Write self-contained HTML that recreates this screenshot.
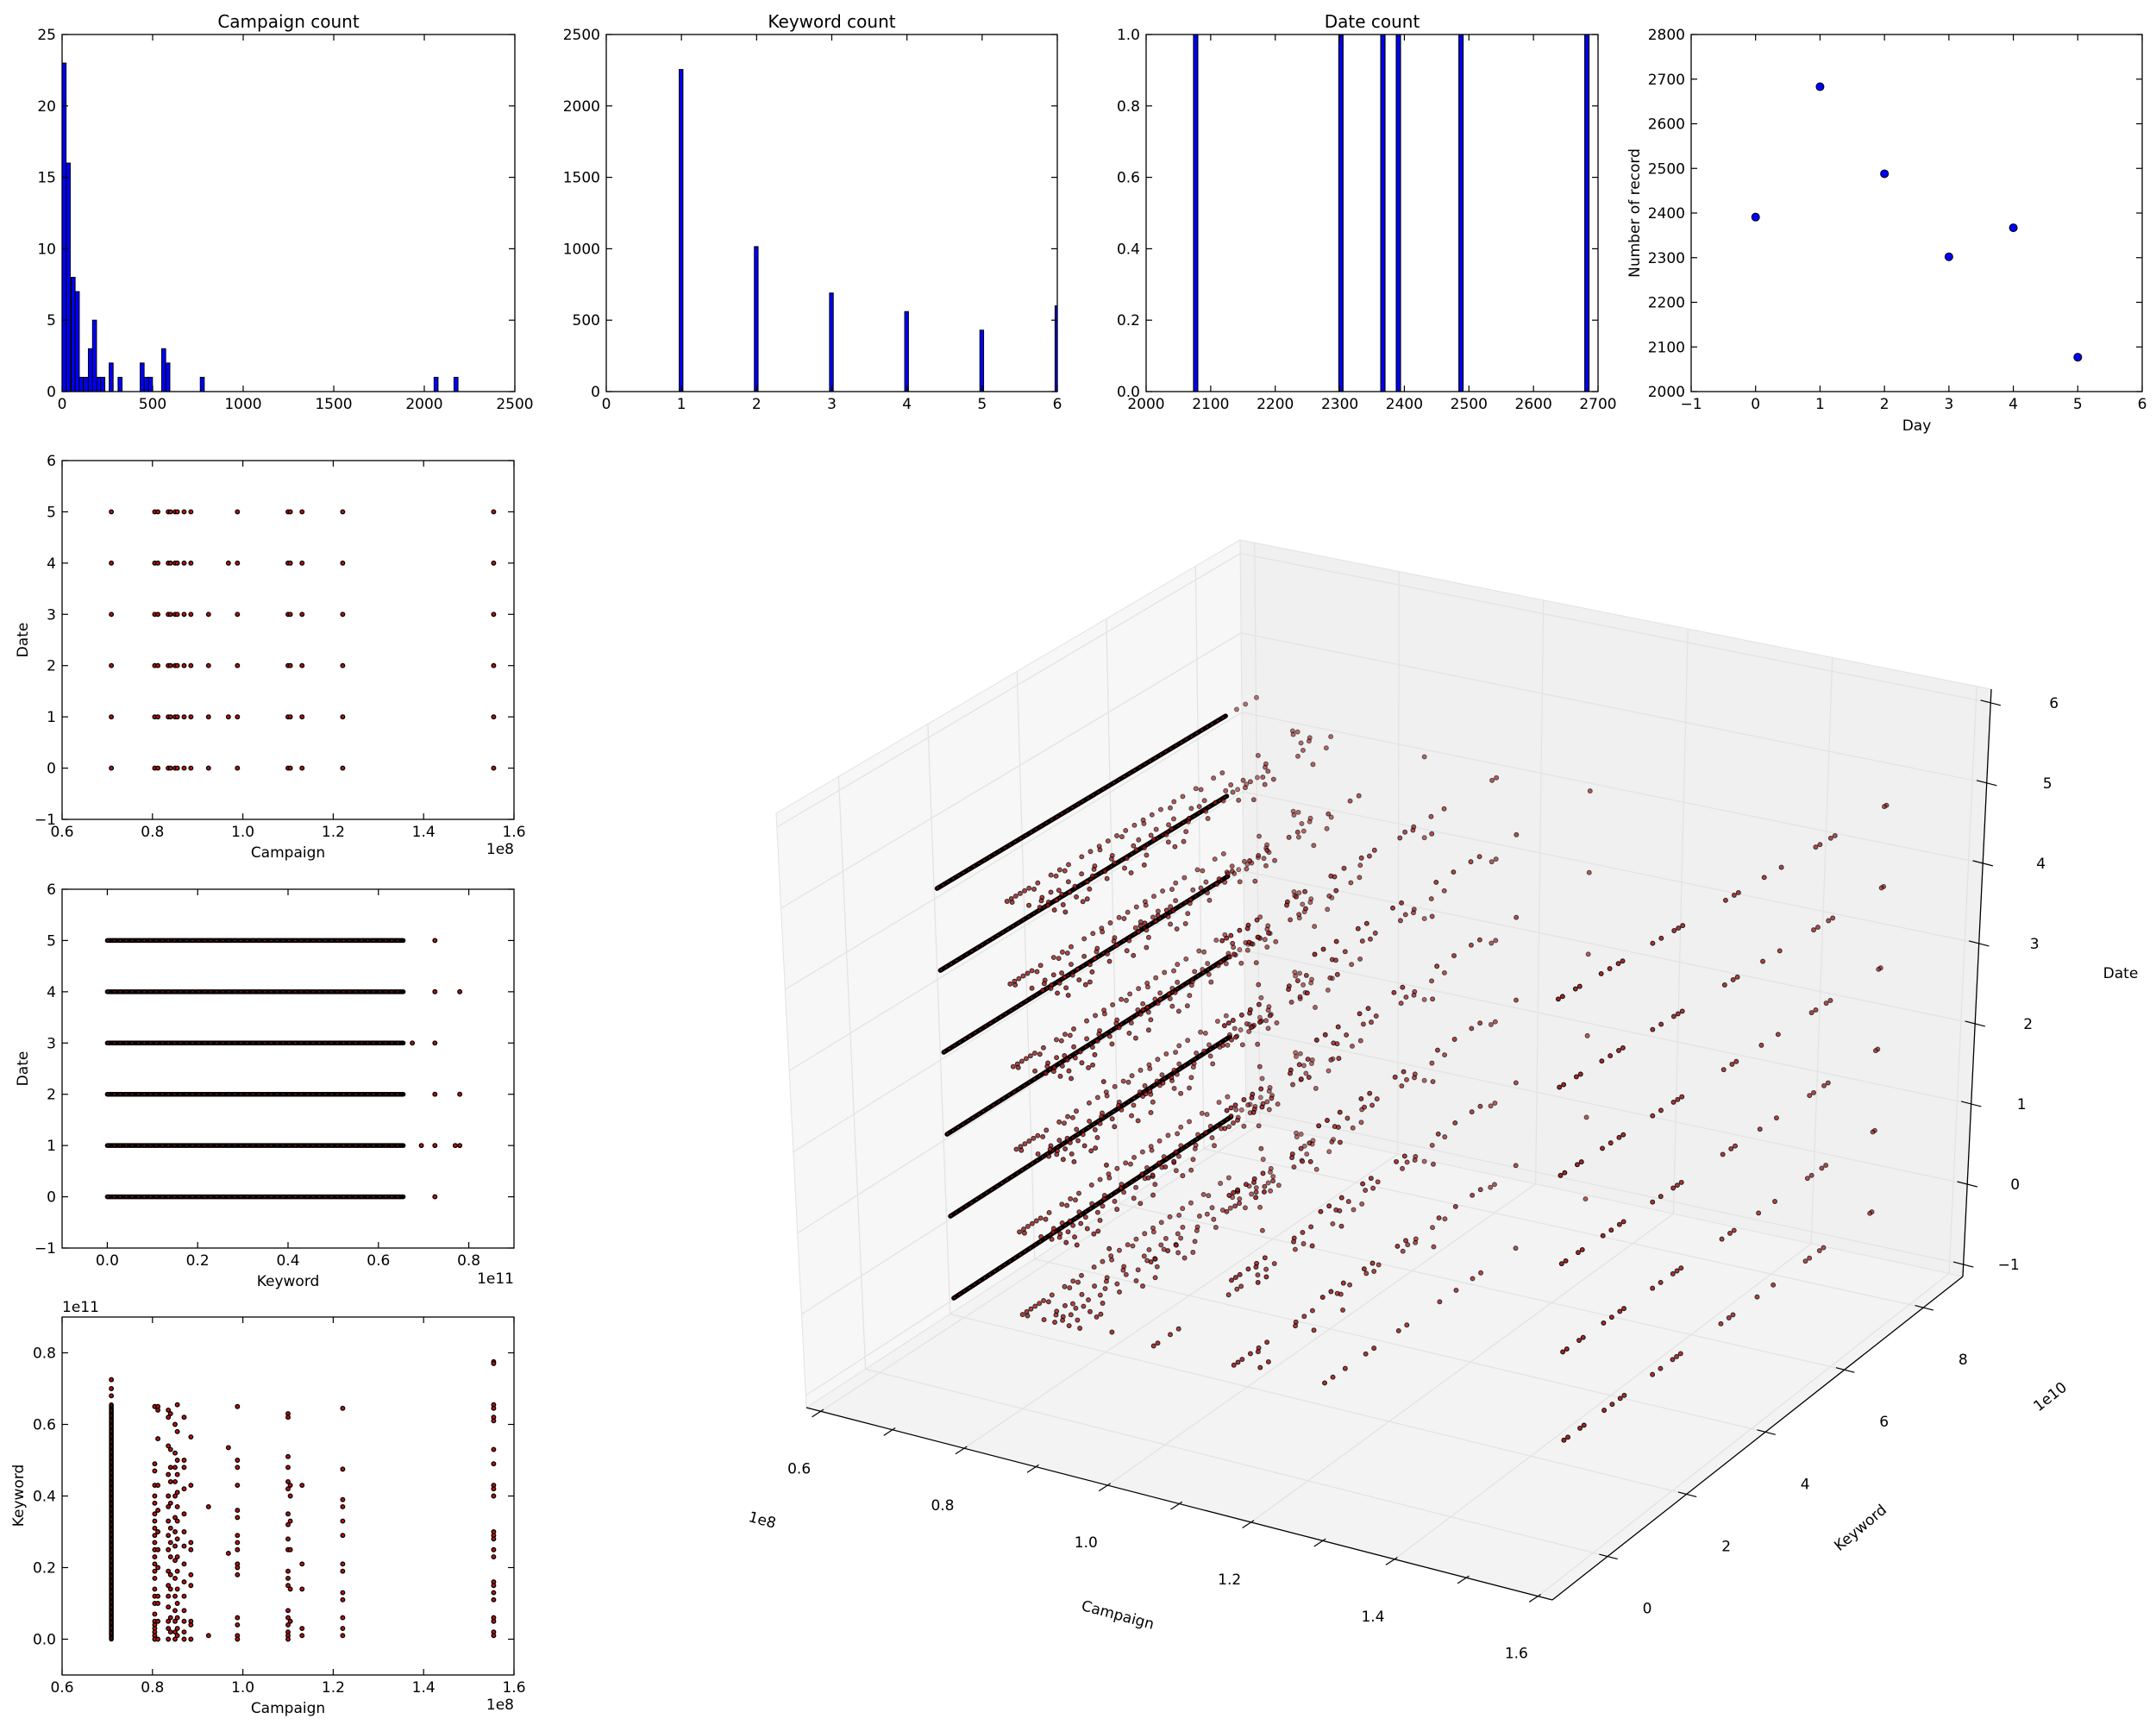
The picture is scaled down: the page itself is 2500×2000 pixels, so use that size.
<!DOCTYPE html>
<html><head><meta charset="utf-8">
<style>
html,body{margin:0;padding:0;background:#fff;}
svg{display:block;font-family:"DejaVu Sans","Liberation Sans",sans-serif;}
</style></head>
<body>
<svg id="fig" xmlns="http://www.w3.org/2000/svg" width="2500" height="2000" viewBox="0 0 2500 2000"></svg>
<script>
// ---------- DATA ----------
const campHistLefts = [0,23,50,73,95,122,145,168,191,214,260,309,431,454,477,550,573,763,2054,2164];
const campHistCounts = [23,16,8,7,1,1,3,5,1,1,2,1,2,1,1,3,2,1,1,1];
const kwCountCats = [1,2,3,4,5,6];
const kwCountVals = [2255,1015,690,560,430,600];
const dateCountVals = [2077,2302,2367,2391,2488,2683];
const days = [0,1,2,3,4,5];
const dayRecords = [2391,2683,2488,2302,2367,2077];

const campaigns = [0.709,0.805,0.812,0.835,0.84,0.85,0.855,0.87,0.885,0.924,0.968,0.988,1.10,1.105,1.131,1.221,1.555];
const campDates = [
 [0,1,2,3,4,5],[0,1,2,3,4,5],[0,1,2,3,4,5],[0,1,2,3,4,5],[0,1,2,3,4,5],[0,1,2,3,4,5],
 [0,1,2,3,4,5],[0,1,2,3,4,5],[0,1,2,3,4,5],[0,1,2,3],[1,4],[0,1,2,3,4,5],
 [0,1,2,3,4,5],[0,1,2,3,4,5],[0,1,2,3,4,5],[0,1,2,3,4,5],[0,1,2,3,4,5]];
const campKeywords = [
 [0.68,0.70,0.725],
 [0.65,0.49,0.47,0.43,0.40,0.38,0.35,0.33,0.31,0.29,0.27,0.25,0.23,0.21,0.19,0.17,0.14,0.12,0.10,0.07,0.05,0.04,0.03,0.02,0.01,0.0],
 [0.65,0.64,0.56,0.43,0.36,0.30,0.25,0.20,0.12,0.10,0.05,0.0],
 [0.64,0.62,0.54,0.46,0.40,0.37,0.33,0.29,0.25,0.19,0.15,0.12,0.09,0.05,0.03,0.0],
 [0.63,0.53,0.48,0.44,0.38,0.31,0.27,0.23,0.18,0.14,0.06,0.02],
 [0.60,0.52,0.48,0.44,0.40,0.34,0.30,0.26,0.22,0.17,0.12,0.08,0.05,0.02,0.0],
 [0.655,0.58,0.50,0.46,0.41,0.37,0.33,0.28,0.23,0.19,0.14,0.10,0.06,0.03,0.01],
 [0.62,0.50,0.48,0.42,0.35,0.30,0.26,0.21,0.16,0.12,0.08,0.05,0.02,0.0],
 [0.565,0.43,0.27,0.25,0.18,0.15,0.05,0.04,0.0],
 [0.37,0.01],
 [0.535,0.24],
 [0.65,0.50,0.48,0.43,0.36,0.34,0.29,0.27,0.25,0.21,0.20,0.18,0.06,0.04,0.01,0.0],
 [0.63,0.62,0.51,0.48,0.44,0.42,0.35,0.32,0.28,0.25,0.19,0.17,0.15,0.08,0.06,0.04,0.02,0.01,0.0],
 [0.43,0.40,0.33,0.25,0.14,0.05],
 [0.43,0.21,0.14,0.03,0.01],
 [0.645,0.475,0.39,0.37,0.33,0.29,0.21,0.19,0.13,0.11,0.06,0.03,0.01],
 [0.775,0.77,0.655,0.645,0.62,0.61,0.53,0.49,0.43,0.42,0.40,0.30,0.29,0.28,0.25,0.23,0.16,0.15,0.13,0.11,0.06,0.05,0.02,0.01]];
const denseCampaign = 0.709;
const denseKwRange = [0.0, 0.655];
const dateLevels = [0,1,2,3,4,5];
// keyword outliers beyond the dense band, per date (1e11)
const outlierDates = [5,4,4,3,3,2,2,1,1,1,1,0];
const outlierKw = [0.725,0.725,0.78,0.675,0.725,0.725,0.78,0.695,0.725,0.77,0.78,0.725];

// ---------- HELPERS ----------
const svg = document.getElementById('fig');
const NS = 'http://www.w3.org/2000/svg';
function el(tag, attrs, parent){
  const e = document.createElementNS(NS, tag);
  for (const k in attrs) e.setAttribute(k, attrs[k]);
  (parent||svg).appendChild(e);
  return e;
}
function txt(s, x, y, size, anchor, parent, extra){
  const t = el('text', Object.assign({x:x, y:y, 'font-size':size, 'text-anchor':anchor||'middle', fill:'#000'}, extra||{}), parent);
  t.textContent = s;
  return t;
}
function fmtNum(v, dec){ let s = v.toFixed(dec); if (v < 0) s = '\u2212' + s.slice(1); return s; }

function makeAxes(name, x0, y0, x1, y1, xmin, xmax, ymin, ymax, xticks, yticks, xdec, ydec){
  const g = el('g', {});
  
  
  const sx = v => x0 + (v - xmin) / (xmax - xmin) * (x1 - x0);
  const sy = v => y1 - (v - ymin) / (ymax - ymin) * (y1 - y0);
  const plot = el('g', {}, g);
  
  
  const clipId = name + '-clip';
  const cp = el('clipPath', {id: clipId}, g);
  el('rect', {x:x0, y:y0, width:x1-x0, height:y1-y0}, cp);
  plot.setAttribute('clip-path', 'url(#' + clipId + ')');
  const ax = el('g', {}, g);
  
  
  const T = 7;
  xticks.forEach(v => {
    const x = sx(v);
    el('line', {x1:x, y1:y1, x2:x, y2:y1-T, stroke:'#000', 'stroke-width':1.2}, ax);
    el('line', {x1:x, y1:y0, x2:x, y2:y0+T, stroke:'#000', 'stroke-width':1.2}, ax);
    txt(fmtNum(v, xdec), x, y1 + 20, 17, 'middle', ax);
  });
  yticks.forEach(v => {
    const y = sy(v);
    el('line', {x1:x0, y1:y, x2:x0+T, y2:y, stroke:'#000', 'stroke-width':1.2}, ax);
    el('line', {x1:x1, y1:y, x2:x1-T, y2:y, stroke:'#000', 'stroke-width':1.2}, ax);
    txt(fmtNum(v, ydec), x0 - 7, y + 6, 17, 'end', ax);
  });
  el('rect', {x:x0, y:y0, width:x1-x0, height:y1-y0, fill:'none', stroke:'#000', 'stroke-width':1.3}, ax);
  return {g:g, plot:plot, ax:ax, sx:sx, sy:sy, x0:x0, x1:x1, y0:y0, y1:y1};
}
function range(a, b, s){ const r=[]; for (let v=a; v<=b+1e-9; v+=s) r.push(Math.round(v*1e6)/1e6); return r; }

// ---------- PANEL 1: Campaign count ----------
(function(){
  const A = makeAxes('campaign-count-hist', 72, 40, 597, 454, 0, 2500, 0, 25, range(0,2500,500), range(0,25,5), 0, 0);
  const t = txt('Campaign count', (A.x0+A.x1)/2, 32, 20, 'middle', A.g);
  
  
  campHistLefts.forEach((l, i) => {
    const r = el('rect', {x:A.sx(l), y:A.sy(campHistCounts[i]), width:A.sx(l+22)-A.sx(l), height:A.sy(0)-A.sy(campHistCounts[i]), fill:'#0000ff', stroke:'#000', 'stroke-width':1}, A.plot);
    
    
  });
})();

// ---------- PANEL 2: Keyword count ----------
(function(){
  const A = makeAxes('keyword-count-hist', 703, 40, 1226, 454, 0, 6, 0, 2500, range(0,6,1), range(0,2500,500), 0, 0);
  const t = txt('Keyword count', (A.x0+A.x1)/2, 32, 20, 'middle', A.g);
  
  
  kwCountCats.forEach((c, i) => {
    const r = el('rect', {x:A.sx(c-0.03), y:A.sy(kwCountVals[i]), width:A.sx(0.05)-A.sx(0), height:A.sy(0)-A.sy(kwCountVals[i]), fill:'#0000ff', stroke:'#000', 'stroke-width':1}, A.plot);
    
    
  });
})();

// ---------- PANEL 3: Date count ----------
(function(){
  const A = makeAxes('date-count-hist', 1329, 40, 1853, 454, 2000, 2700, 0, 1, range(2000,2700,100), range(0,1,0.2), 0, 1);
  const t = txt('Date count', (A.x0+A.x1)/2, 32, 20, 'middle', A.g);
  
  
  dateCountVals.forEach(v => {
    const r = el('rect', {x:A.sx(v-3.5), y:A.sy(1), width:A.sx(6.5)-A.sx(0), height:A.sy(0)-A.sy(1), fill:'#0000ff', stroke:'#000', 'stroke-width':1.2}, A.plot);
    
    
  });
})();

// ---------- PANEL 4: records per day ----------
(function(){
  const A = makeAxes('records-per-day-scatter', 1961, 40, 2484, 454, -1, 6, 2000, 2800, range(-1,6,1), range(2000,2800,100), 0, 0);
  const xl = txt('Day', (A.x0+A.x1)/2, 499, 17, 'middle', A.g);
  
  
  const yl = txt('Number of record', 0, 0, 17, 'middle', A.g, {transform:'translate(1901,247) rotate(-90)'});
  
  
  days.forEach((d, i) => {
    const c = el('circle', {cx:A.sx(d), cy:A.sy(dayRecords[i]), r:4.5, fill:'#0000ff', stroke:'#000', 'stroke-width':1}, A.plot);
    
    
  });
})();

function dot(parent, x, y, r){
  const c = el('circle', {cx:x, cy:y, r:r, fill:'#c01010', stroke:'#000', 'stroke-width':1.3}, parent);
  
  
}

// ---------- PANEL A: Campaign vs Date ----------
(function(){
  const A = makeAxes('campaign-date-scatter', 72, 534, 596, 950, 0.6, 1.6, -1, 6, range(0.6,1.6,0.2), range(-1,6,1), 1, 0);
  txt('1e8', 596, 990, 17, 'end', A.g);
  const xl = txt('Campaign', 334, 994, 17, 'middle', A.g);
  
  
  const yl = txt('Date', 0, 0, 17, 'middle', A.g, {transform:'translate(32,742) rotate(-90)'});
  
  
  campaigns.forEach((c, i) => campDates[i].forEach(d => dot(A.plot, A.sx(c), A.sy(d), 2.3)));
})();

// ---------- PANEL B: Keyword vs Date ----------
(function(){
  const A = makeAxes('keyword-date-scatter', 72, 1031, 596, 1447, -0.1, 0.9, -1, 6, range(0,0.8,0.2), range(-1,6,1), 1, 0);
  txt('1e11', 596, 1488, 17, 'end', A.g);
  const xl = txt('Keyword', 334, 1491, 17, 'middle', A.g);
  
  
  const yl = txt('Date', 0, 0, 17, 'middle', A.g, {transform:'translate(32,1239) rotate(-90)'});
  
  
  dateLevels.forEach(d => {
    const l = el('line', {x1:A.sx(denseKwRange[0]), y1:A.sy(d), x2:A.sx(denseKwRange[1]), y2:A.sy(d), stroke:'#000', 'stroke-width':5.5, 'stroke-linecap':'round'}, A.plot);
    
    
    el('line', {x1:A.sx(denseKwRange[0]), y1:A.sy(d), x2:A.sx(denseKwRange[1]), y2:A.sy(d), stroke:'#b01010', 'stroke-width':1.3, 'stroke-dasharray':'2 5'}, A.plot);
  });
  outlierKw.forEach((k, i) => dot(A.plot, A.sx(k), A.sy(outlierDates[i]), 2.3));
})();

// ---------- PANEL C: Campaign vs Keyword ----------
(function(){
  const A = makeAxes('campaign-keyword-scatter', 72, 1527, 596, 1942, 0.6, 1.6, -0.1, 0.9, range(0.6,1.6,0.2), range(0,0.8,0.2), 1, 1);
  txt('1e11', 72, 1521, 17, 'start', A.g);
  txt('1e8', 596, 1982, 17, 'end', A.g);
  const xl = txt('Campaign', 334, 1986, 17, 'middle', A.g);
  
  
  const yl = txt('Keyword', 0, 0, 17, 'middle', A.g, {transform:'translate(27,1734) rotate(-90)'});
  
  
  const l = el('line', {x1:A.sx(denseCampaign), y1:A.sy(denseKwRange[0]), x2:A.sx(denseCampaign), y2:A.sy(denseKwRange[1]), stroke:'#000', 'stroke-width':5.5, 'stroke-linecap':'round'}, A.plot);
  
  
  el('line', {x1:A.sx(denseCampaign), y1:A.sy(denseKwRange[0]), x2:A.sx(denseCampaign), y2:A.sy(denseKwRange[1]), stroke:'#b01010', 'stroke-width':1.3, 'stroke-dasharray':'2 4'}, A.plot);
  campaigns.forEach((c, i) => campKeywords[i].forEach(k => dot(A.plot, A.sx(c), A.sy(k), 2.3)));
})();

// ---------- 3D PANEL ----------
(function(){
  const g = el('g', {});
  
  
  const C = {
    '000':[935,1632], '100':[1800,1855], '110':[2276,1480], '010':[1445,1300],
    '001':[900,943],  '101':[1785,1090], '111':[2309,799],  '011':[1438,626]};
  const U = [0.58, 1.62], V = [-1.4, 9.0], W = [-1.15, 6.17];
  function P(u, v, w){
    let x=0, y=0;
    for (const a of [0,1]) for (const b of [0,1]) for (const c of [0,1]) {
      const wt = (a?u:1-u)*(b?v:1-v)*(c?w:1-w);
      const p = C[''+a+b+c];
      x += wt*p[0]; y += wt*p[1];
    }
    return [x, y];
  }
  const nu = c => (c - U[0])/(U[1]-U[0]);
  const nv = k => (k*10 - V[0])/(V[1]-V[0]);
  const nw = d => (d - W[0])/(W[1]-W[0]);
  const poly = (pts, fill, name) => {
    const p = el('polygon', {points: pts.map(q=>q.join(',')).join(' '), fill:fill, stroke:'#e2e2e2', 'stroke-width':1}, g);
    
    
  };
  poly([P(0,0,0),P(0,1,0),P(0,1,1),P(0,0,1)], '#f7f7f7', 'left-pane');
  poly([P(0,1,0),P(1,1,0),P(1,1,1),P(0,1,1)], '#f0f0f0', 'back-pane');
  poly([P(0,0,0),P(1,0,0),P(1,1,0),P(0,1,0)], '#f3f3f3', 'floor-pane');
  const line = (a, b, col, w, name, parent) => {
    const l = el('line', {x1:a[0], y1:a[1], x2:b[0], y2:b[1], stroke:col, 'stroke-width':w}, parent||g);
    if (name) {   }
    return l;
  };
  const campTicks = range(0.6, 1.6, 0.2);
  const campMinor = range(0.6, 1.6, 0.1);
  const kwTicks = [0,2,4,6,8];
  const dateTicks = range(-1, 6, 1);
  const grid = '#e3e3e3';
  campTicks.forEach(c => { const u=nu(c); line(P(u,0,0),P(u,1,0),grid,1.3,'grid-line'); line(P(u,1,0),P(u,1,1),grid,1.3,'grid-line'); });
  kwTicks.forEach(k => { const v=(k-V[0])/(V[1]-V[0]); line(P(0,v,0),P(1,v,0),grid,1.3,'grid-line'); line(P(0,v,0),P(0,v,1),grid,1.3,'grid-line'); });
  dateTicks.forEach(d => { const w=nw(d); line(P(0,0,w),P(0,1,w),grid,1.3,'grid-line'); line(P(0,1,w),P(1,1,w),grid,1.3,'grid-line'); });

  const pts = el('g', {}, g);
  
  
  dateLevels.forEach(d => {
    const a = P(nu(denseCampaign), nv(denseKwRange[0]), nw(d));
    const b = P(nu(denseCampaign), nv(denseKwRange[1]), nw(d));
    line(a, b, '#000', 5.5, 'dense-3d-band', pts).setAttribute('stroke-linecap','round');
    line(a, b, '#b01010', 1.3, null, pts).setAttribute('stroke-dasharray','2 5');
  });
  campaigns.forEach((c, i) => campDates[i].forEach(d => campKeywords[i].forEach(k => {
    const u = nu(c), v = nv(k), w = nw(d);
    const p = P(u, v, w);
    const depth = v*0.5 + (1-u)*0.3;
    const s = el('circle', {cx:p[0], cy:p[1], r:2.4, fill:'#b01414', stroke:'#000', 'stroke-width':1.1, opacity:(1-depth*0.6).toFixed(2)}, pts);
    
    
  })));

  const ax = el('g', {}, g);
  
  
  line(P(0,0,0), P(1,0,0), '#000', 1.3, 'campaign-axis-line', ax);
  line(P(1,0,0), P(1,1,0), '#000', 1.3, 'keyword-axis-line', ax);
  line(P(1,1,0), P(1,1,1), '#000', 1.3, 'date-axis-line', ax);
  const dk = [0.84,-0.55], dc = [0.97,0.25];
  campMinor.forEach(c => {
    const p = P(nu(c),0,0);
    line([p[0]-12*dk[0], p[1]-12*dk[1]], [p[0]+4*dk[0], p[1]+4*dk[1]], '#000', 1.2, null, ax);
  });
  campTicks.forEach(c => {
    const p = P(nu(c),0,0);
    txt(c.toFixed(1), p[0]-25, p[1]+72, 17, 'middle', ax);
  });
  kwTicks.forEach(k => {
    const v = (k-V[0])/(V[1]-V[0]);
    const p = P(1,v,0);
    line([p[0]-10*dc[0], p[1]-10*dc[1]], [p[0]+12*dc[0], p[1]+12*dc[1]], '#000', 1.2, null, ax);
    txt(String(k), p[0]+46, p[1]+66, 17, 'middle', ax);
  });
  dateTicks.forEach(d => {
    const w = nw(d);
    const p = P(1,1,w);
    line([p[0]-12*dc[0], p[1]-12*dc[1]], [p[0]+12*dc[0], p[1]+12*dc[1]], '#000', 1.2, null, ax);
    txt(fmtNum(d,0), p[0]+52+22*w, p[1]+6, 17, 'middle', ax);
  });
  const t1 = txt('Campaign', 1296, 1878, 17, 'middle', ax, {transform:'rotate(15 1296 1873)'});
  
  
  txt('1e8', 884, 1768, 17, 'middle', ax, {transform:'rotate(15 884 1762)'});
  const t2 = txt('Keyword', 2157, 1777, 17, 'middle', ax, {transform:'rotate(-40 2157 1771)'});
  
  
  txt('1e10', 2377, 1625, 17, 'middle', ax, {transform:'rotate(-38 2377 1619)'});
  const t3 = txt('Date', 2459, 1134, 17, 'middle', ax);
  
  
})();
</script>
</body></html>
